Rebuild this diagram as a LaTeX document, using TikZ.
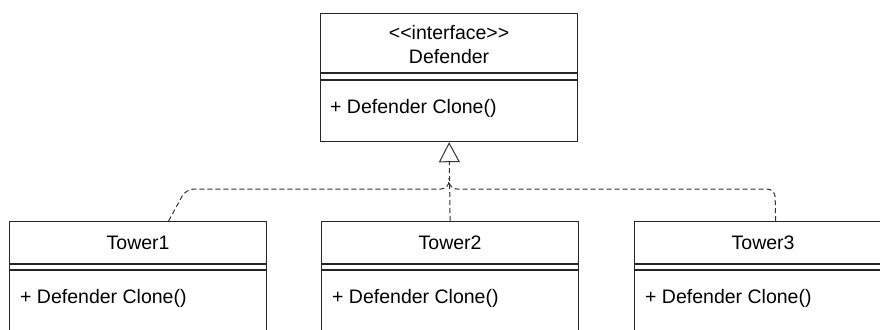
\documentclass[tikz,border=0pt]{standalone}
\usepackage{fontspec}
\setmainfont[Ligatures=TeXOff]{Liberation Sans}
\usetikzlibrary{arrows.meta}

\tikzset{
  classbox/.style={draw=black!85, line width=1.2pt, minimum width=257pt, inner sep=0pt, anchor=north west},
  sepline/.style={draw=black!85, line width=1.2pt},
  clsname/.style={inner sep=0pt, font=\fontsize{19.5}{22}\selectfont},
  member/.style={anchor=west, inner sep=0pt, font=\fontsize{19.5}{22}\selectfont},
  realize/.style={draw=black!80, line width=1pt, dash pattern=on 5pt off 3pt},
}

\begin{document}
\begin{tikzpicture}[x=1pt, y=-1pt]
	\useasboundingbox[fill=white] (0,0) rectangle (880,329);
	\clip (0,0) rectangle (880,329);

	% the interface
	\node[classbox, minimum height=128pt] (defender) at (320,13) {};
	\node[clsname] (stereo) at ([yshift=-20pt]defender.north) {<<interface>>};
	\node[clsname] (defname) at ([yshift=-44pt]defender.north) {Defender};
	\draw[sepline] ([yshift=-60pt]defender.north west) -- ([yshift=-60pt]defender.north east)
		([yshift=-67pt]defender.north west) -- ([yshift=-67pt]defender.north east);
	\node[member] (defclone) at ([xshift=10pt, yshift=-95pt]defender.north west) {+ Defender Clone()};

	% the three towers
	\foreach \n/\x in {1/9, 2/321, 3/634} {
		\node[classbox, minimum height=130pt] (tower\n) at (\x,221) {};
		\node[clsname] (tower\n name) at ([yshift=-22pt]tower\n.north) {Tower\n};
		\draw[sepline] ([yshift=-43pt]tower\n.north west) -- ([yshift=-43pt]tower\n.north east)
			([yshift=-49pt]tower\n.north west) -- ([yshift=-49pt]tower\n.north east);
		\node[member] (tower\n clone) at ([xshift=11pt, yshift=-77pt]tower\n.north west) {+ Defender Clone()};
	}

	\coordinate (join) at (449,178);
	\draw[realize, -{Triangle[open, length=20pt, width=21pt]}] (tower2.north) -- (defender.south);
	\draw[realize, rounded corners=8pt] ([xshift=30.5pt]tower1.north) -- (186,189) -- (449,189) -- (join);
	\draw[realize, rounded corners=8pt] ([xshift=12.5pt]tower3.north) -- (775,189) -- (449,189) -- (join);
\end{tikzpicture}
\end{document}
